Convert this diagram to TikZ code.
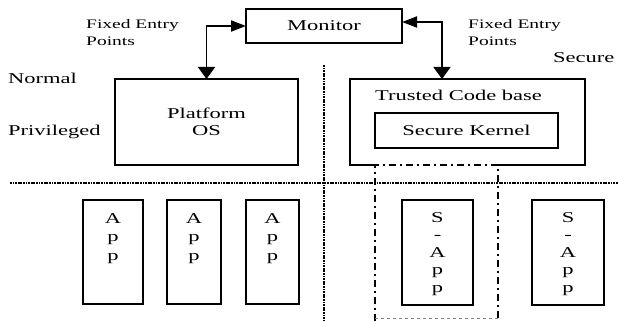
\documentclass[tikz,border=0pt]{standalone}
\usepackage{fontspec}
\setmainfont{Liberation Serif}[FakeStretch=1.5]
\usetikzlibrary{arrows.meta}
\begin{document}
\begin{tikzpicture}[x=1pt,y=-1pt,
  box/.style={draw, line width=1.5pt, inner sep=0pt, outer sep=0pt},
  lbl/.style={inner sep=0pt, font=\fontsize{15}{17}\selectfont},
  small/.style={inner sep=0pt, font=\fontsize{13}{17}\selectfont, align=left},
  conn/.style={line width=1.8pt, {Triangle[length=15pt,width=11pt]}-{Triangle[length=12pt,width=17pt]}},
  divider/.style={line width=1.6pt, dash pattern=on 1.8pt off 0.8pt},
  tcbline/.style={line width=1.6pt, dash pattern=on 7pt off 4pt on 2pt off 4pt},
]
\useasboundingbox (0,0) rectangle (618,321);

% dividers
\coordinate (vtop) at (324,65);
\coordinate (vbot) at (324,321);
\coordinate (hl) at (10,183);
\coordinate (hr) at (618,183);
\draw[divider] (vtop) -- (vbot);
\draw[divider] (hl) -- (hr);

% monitor
\node[box, lbl, minimum width=156pt, minimum height=34pt] (mon) at (324,26) {Monitor};

% platform OS
\node[box, lbl, align=center, minimum width=183pt, minimum height=86pt] (plat) at (206.5,122) {Platform\\OS};

% trusted code base
\node[inner sep=0pt, outer sep=0pt, minimum width=235pt, minimum height=86pt] (tcb) at (467.5,122) {};
\coordinate (tl) at ([xshift=-92.5pt]tcb.south);
\coordinate (tr) at ([xshift=30.5pt]tcb.south);
\coordinate (bl) at (375,321);
\coordinate (br) at (498,321);
\draw[line width=1.5pt] (tl) -- (tcb.south west) -- (tcb.north west) -- (tcb.north east) -- (tcb.south east) -- (tr);
\draw[tcbline] (bl) -- (tl) -- (tr) -- (br);
\coordinate (dl) at (375,318);
\coordinate (dr) at (498,318);
\draw[gray, dashed, line width=1pt] (dl) -- (dr);
\node[lbl, anchor=base west] (tcbt) at (375,100.5) {Trusted Code base};
\node[box, lbl, minimum width=183pt, minimum height=35pt] (sk) at (466.5,130.5) {Secure Kernel};

% connectors
\draw[conn] (mon.west) -| (plat.north);
\draw[conn] ([yshift=4pt]mon.east) -| ([xshift=-25.5pt]tcb.north);

% labels
\node[small, anchor=north west] (fel) at (86,19) {Fixed Entry\\Points};
\node[small, anchor=north west] (fer) at (468,19) {Fixed Entry\\Points};
\node[lbl, anchor=base west] (normal) at (8,83) {Normal};
\node[lbl, anchor=base west] (priv) at (8,135) {Privileged};
\node[lbl, anchor=base west] (secure) at (553,63) {Secure};

% apps
\node[box, minimum width=60pt, minimum height=104pt] (app1) at (113,252) {};
\node[box, minimum width=54pt, minimum height=104pt] (app2) at (194,252) {};
\node[box, minimum width=53pt, minimum height=104pt] (app3) at (272.5,252) {};
\node[lbl, align=center, anchor=north, font=\fontsize{15}{18.5}\selectfont] (app1t) at (113,213) {A\\p\\p};
\node[lbl, align=center, anchor=north, font=\fontsize{15}{18.5}\selectfont] (app2t) at (194,213) {A\\p\\p};
\node[lbl, align=center, anchor=north, font=\fontsize{15}{18.5}\selectfont] (app3t) at (272.5,213) {A\\p\\p};

% secure apps
\node[box, minimum width=71pt, minimum height=105pt] (sapp1) at (437.5,252.5) {};
\node[box, minimum width=72pt, minimum height=105pt] (sapp2) at (568,252.5) {};
\node[lbl, align=center, anchor=north, font=\fontsize{15}{17.5}\selectfont] (sapp1t) at (437.5,212) {S\\-\\A\\p\\p};
\node[lbl, align=center, anchor=north, font=\fontsize{15}{17.5}\selectfont] (sapp2t) at (568,212) {S\\-\\A\\p\\p};
\end{tikzpicture}
\end{document}
